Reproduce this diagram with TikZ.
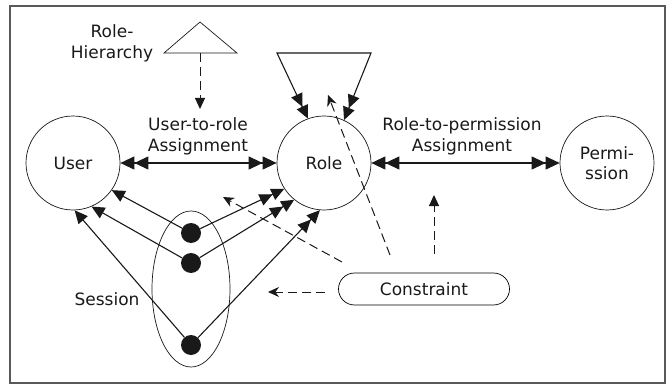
\documentclass[tikz,border=0pt]{standalone}
\usepackage{fontspec}
\setmainfont{DejaVu Sans}
\usepackage{tikz}
\usetikzlibrary{arrows,arrows.meta,shapes,calc}

\begin{document}
\begin{tikzpicture}[x=1pt, y=-1pt]
\tikzstyle{entity}=[circle, minimum size = 94pt, inner sep = 0pt, line width = 0.7pt, draw = black!90, text = black!90, align = center, font = \fontsize{17}{20}\selectfont]
\tikzstyle{dot}=[circle, minimum size = 20pt, inner sep = 0pt, fill = black!90]
\tikzstyle{txt}=[align = center, text = black!90, font = \fontsize{17}{21}\selectfont]
\tikzstyle{toone}=[-{Triangle[length=13pt, width=12pt]}, line width = 1.1pt, black!90]
\tikzstyle{tomany}=[-{Triangle[length=13pt, width=12pt]Triangle[length=13pt, width=12pt]}, line width = 1.1pt, black!90]
\tikzstyle{twoway}=[{Triangle[length=14pt, width=13pt]Triangle[length=14pt, width=13pt]}-{Triangle[length=14pt, width=13pt]Triangle[length=14pt, width=13pt]}, line width = 1.1pt, black!90]
\tikzstyle{hint}=[-{Stealth[length=11pt, width=10pt]}, line width = 1pt, black!90, dash pattern = on 9pt off 5pt]

  \useasboundingbox (0,0) rectangle (669,385);
  \draw[black!65, line width = 1.4pt] (10,6) rectangle (665,383);

  % entities
  \node[entity] (user) at (73,163) {User};
  \node[entity, node distance = 251pt] (role) [right of =user] {Role};
  \node[entity, node distance = 283pt] (perm) [right of =role] {Permi-\\ssion};

  \node[txt] (ura) at (198,136) {User-to-role\\Assignment};
  \node[txt] (rpa) at (462,136) {Role-to-permission\\Assignment};

  % role hierarchy
  \coordinate (hier) at (200,53);
  \coordinate (hiertip) at (200,109);
  \draw[line width = 0.7pt, black!90] (164,53) -- (200,22) -- (237,53) -- cycle;
  \node[txt] (hierlabel) at (112,43) {Role-\\Hierarchy};
  \draw[hint, -{Triangle[length=11pt, width=10pt]}] (hier) -- (hiertip);

  \coordinate (loopl) at (277,53);
  \coordinate (loopr) at (371,53);
  \draw[tomany, {Triangle[length=13pt, width=12pt]Triangle[length=13pt, width=12pt]}-{Triangle[length=13pt, width=12pt]Triangle[length=13pt, width=12pt]}]
        (role.110) -- (loopl) -- (loopr) -- (role.65);

  \path (user) edge [twoway] (role)
        (role) edge [twoway] (perm);

  % session
  \node[ellipse, draw, line width = 0.7pt, black!90, minimum width = 78pt, minimum height = 156pt, inner sep = 0pt] (session) at (191,289) {};
  \node[txt] (sessionlabel) at (107,299) {Session};
  \node[dot] (s1) at (191,233) {};
  \node[dot] (s2) at (191,263) {};
  \node[dot] (s3) at (191,345) {};

  \path (s1) edge [toone] (user.-35)
        (s2) edge [toone] (user.-67)
        (s3) edge [toone] (user.-88)
        (s1) edge [tomany] (role.213)
        (s2) edge [tomany] (role.231)
        (s3) edge [tomany] (role.265);

  % constraint
  \node[txt, draw, line width = 0.7pt, rounded corners = 16pt, minimum width = 171pt, minimum height = 32pt] (cons) at (424,289) {Constraint};

  \coordinate (c1) at (390,255);
  \coordinate (t1) at (328,95);
  \coordinate (c2) at (434,254);
  \coordinate (t2) at (434,195);
  \coordinate (c3) at (342,262);
  \coordinate (t3) at (223,197);
  \coordinate (c4) at (325,292);
  \coordinate (t4) at (268,292);

  \draw[hint] (c1) -- (t1);
  \draw[hint, -{Triangle[length=11pt, width=10pt]}] (c2) -- (t2);
  \draw[hint] (c3) -- (t3);
  \draw[hint] (c4) -- (t4);

\end{tikzpicture}
\end{document}
